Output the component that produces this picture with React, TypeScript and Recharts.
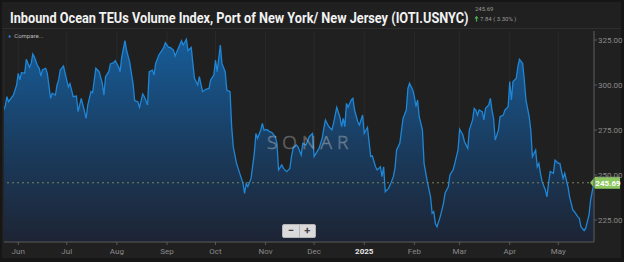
import { useLayoutEffect, useRef, useState } from 'react';
import { AreaChart, Area, XAxis, YAxis, CartesianGrid, ReferenceLine } from 'recharts';

// day offsets from 2024-06-01
const days = [
  -9, -8, -7, -6, -3, -1, 0, 1, 2, 4,
  5, 7, 8, 9, 10, 12, 13, 14, 15, 17,
  18, 20, 21, 23, 24, 25, 26, 28, 29, 31,
  32, 33, 34, 36, 37, 39, 40, 42, 43, 45,
  46, 48, 50, 52, 53, 54, 56, 57, 59, 60,
  62, 63, 64, 66, 67, 69, 70, 71, 72, 74,
  75, 77, 78, 80, 81, 83, 84, 85, 87, 89,
  90, 91, 93, 94, 96, 97, 99, 101, 102, 104,
  105, 107, 108, 109, 111, 112, 114, 116, 118, 119,
  121, 122, 123, 125, 126, 128, 129, 131, 132, 133,
  135, 137, 139, 140, 141, 142, 144, 146, 147, 148,
  150, 151, 152, 154, 155, 157, 159, 160, 161, 163,
  164, 166, 168, 169, 170, 172, 173, 175, 176, 178,
  180, 182, 183, 186, 188, 189, 190, 192, 194, 195,
  197, 199, 200, 201, 202, 203, 204, 206, 207, 208,
  210, 211, 213, 214, 216, 218, 219, 221, 222, 224,
  225, 226, 227, 229, 230, 232, 233, 234, 236, 238,
  240, 241, 242, 244, 245, 246, 247, 248, 250, 251,
  253, 255, 256, 257, 258, 259, 261, 263, 264, 266,
  267, 269, 270, 272, 273, 275, 276, 278, 279, 281,
  282, 283, 284, 285, 287, 288, 289, 291, 292, 293,
  294, 295, 297, 298, 300, 301, 303, 304, 305, 306,
  308, 309, 310, 312, 313, 314, 316, 317, 318, 320,
  321, 322, 323, 324, 326, 327, 328, 329, 331, 332,
  334, 335, 336, 337, 338, 340, 341, 343, 344, 346,
  347, 348, 350, 351, 353, 354, 356,
];

const teuIndex = [
  286.1, 288.3, 293.5, 290.7, 294.4, 300, 306.5, 302.8, 306.9, 306.5,
  314.3, 309.8, 312, 317.2, 315.5, 310.6, 309.3, 305, 308.5, 309.3,
  306.5, 292.6, 295.4, 294.4, 300, 302.8, 308.3, 310.6, 306.5, 299,
  300.8, 297.2, 293.5, 293.9, 285.2, 292.6, 288.9, 281.5, 288.9, 296.3,
  295.7, 309.3, 307.4, 301, 294.4, 304.6, 307.4, 311.7, 312.4, 313.5,
  310.2, 307.4, 315.5, 324.6, 319.4, 312.4, 306.5, 301, 291.3, 290.7,
  287.6, 295, 293.5, 288.9, 307.4, 308.3, 305.6, 312, 316.7, 319.4,
  320.9, 323.5, 320.9, 320.9, 319.4, 316.1, 320.4, 324.6, 322.2, 325.4,
  319.1, 320.9, 312, 303.7, 300, 304.6, 296.3, 297.6, 298.1, 302.8,
  305.6, 313.9, 307.4, 322.2, 312, 307.4, 297.2, 296.3, 276.9, 265.7,
  256.5, 250.9, 245.4, 239.8, 245.4, 243.5, 248.1, 262, 273.1, 270.4,
  275, 278.7, 275, 275.2, 274.4, 273.5, 271.3, 267.6, 252.8, 255.6,
  253.7, 251.9, 253.7, 260.2, 264.8, 266.7, 265.7, 261.1, 267.6, 266.7,
  271.3, 273.1, 260.2, 264.8, 270.4, 275.9, 280.6, 277, 275, 278.7,
  287.6, 282, 276.9, 281.5, 276.9, 289.8, 287.6, 291.7, 292.6, 286.1,
  279.6, 277.8, 283.3, 273.1, 276.5, 260.2, 260.6, 254.6, 252.8, 254.6,
  249.1, 254.6, 240.7, 242.6, 244.4, 249.1, 253.7, 263.9, 267.6, 281.5,
  286.1, 298.1, 301, 297.2, 293.5, 288, 291.7, 282.4, 275, 256.5,
  246.3, 237.9, 228.7, 229.6, 223.1, 221.3, 226.9, 234.3, 240, 243.5,
  250, 253, 256.5, 263.9, 275.5, 272.2, 268.5, 264.8, 275, 280.6,
  287, 286.1, 283.3, 286.1, 285.2, 280.6, 287, 288.9, 292.6, 286.1,
  281.5, 269.4, 275, 282.4, 283.3, 286.1, 288, 301.9, 291.7, 301.9,
  303.7, 310.2, 314.3, 312, 302.8, 291.7, 282.4, 275, 260.2, 263.9,
  254.6, 256.5, 250.9, 246.3, 241.7, 237.9, 245.4, 251.9, 251, 258.3,
  256.5, 256.5, 251.9, 248.1, 251, 243.5, 237.9, 230.6, 229.6, 226.9,
  226, 221.3, 219.1, 220.5, 227.8, 236.1, 245.69,
];

// month starts (days from 2024-06-01) and their labels
const monthTicks = [0, 30, 61, 92, 122, 153, 183, 214, 245, 273, 304, 334];
const monthLabels = ['Jun', 'Jul', 'Aug', 'Sep', 'Oct', 'Nov', 'Dec', '2025', 'Feb', 'Mar', 'Apr', 'May'];
const valueTicks = [225, 250, 275, 300, 325];

const lastValue = 245.69;
const changeText = '7.84 ( 3.30% )';
const title = 'Inbound Ocean TEUs Volume Index, Port of New York/ New Jersey (IOTI.USNYC)';

const chartData = days.map((d, i) => ({ day: d, value: teuIndex[i] }));

const font = 'Roboto, "DejaVu Sans", sans-serif';
const TITLE_WIDTH = 458;

const MonthTick = (props: any) => {
  const { x, y, payload } = props;
  const idx = monthTicks.indexOf(payload.value);
  const label = monthLabels[idx] ?? '';
  const isYear = label === '2025';
  return (
    <text
      x={x}
      y={y + 7}
      textAnchor="middle"
      fontSize={8}
      fontFamily={font}
      fontWeight={isYear ? 700 : 400}
      fill={isYear ? '#e6e6e6' : '#8a8a8a'}
    >
      {label}
    </text>
  );
};

const LastValueTag = (props: any) => {
  const { viewBox } = props;
  if (!viewBox) return null;
  const right = viewBox.x + viewBox.width;
  const cy = viewBox.y;
  const pts = `${right - 4},${cy} ${right + 1},${cy - 6} ${right + 26},${cy - 6} ${right + 26},${cy + 6} ${right + 1},${cy + 6}`;
  return (
    <g>
      <polygon points={pts} fill="#8cc760" />
      <text
        x={right + 14}
        y={cy + 3}
        textAnchor="middle"
        fontSize={8}
        fontWeight={700}
        fontFamily={font}
        fill="#ffffff"
      >
        {lastValue.toFixed(2)}
      </text>
    </g>
  );
};

export default function App() {
  // the original title uses a condensed face; squeeze ours to the same width
  const titleRef = useRef<HTMLDivElement>(null);
  const [titleScale, setTitleScale] = useState(0.8);
  useLayoutEffect(() => {
    const el = titleRef.current;
    if (el && el.scrollWidth > 0) setTitleScale(TITLE_WIDTH / el.scrollWidth);
  }, []);

  return (
    <div
      style={{
        position: 'relative',
        width: 624,
        height: 262,
        background: '#161616',
        overflow: 'hidden',
        fontFamily: font,
      }}
    >
      <style>{'body{margin:0;background:#161616}'}</style>

      {/* panel */}
      <div
        style={{
          position: 'absolute',
          left: 2,
          top: 2,
          width: 619,
          height: 256,
          background: '#202020',
        }}
      />
      <div
        style={{
          position: 'absolute',
          left: 2,
          top: 28,
          width: 619,
          height: 1,
          background: '#2e2e2e',
        }}
      />

      {/* title */}
      <div
        ref={titleRef}
        style={{
          position: 'absolute',
          left: 10,
          top: 9,
          fontSize: 15,
          lineHeight: '18px',
          fontWeight: 700,
          color: '#f2f2f2',
          whiteSpace: 'nowrap',
          transform: `scaleX(${titleScale})`,
          transformOrigin: '0 0',
        }}
      >
        {title}
      </div>

      {/* last price + change */}
      <svg
        width={80}
        height={26}
        style={{ position: 'absolute', left: 472, top: 0 }}
      >
        <text x={3} y={11} fontSize={6} fontFamily={font} fill="#9a9a9a">
          {lastValue.toFixed(2)}
        </text>
        <polygon points="4.5,15.8 6.6,18.6 5.1,18.6 5.1,21.4 3.9,21.4 3.9,18.6 2.4,18.6" fill="#4caf50" />
        <text x={8} y={21} fontSize={6} fontFamily={font} fill="#9a9a9a">
          {changeText}
        </text>
      </svg>

      <div style={{ position: 'absolute', left: 0, top: 0 }}>
        <AreaChart
          width={624}
          height={262}
          data={chartData}
          margin={{ top: 31, right: 2, bottom: 4, left: 4 }}
        >
          <defs>
            <linearGradient id="teuFill" x1="0" y1="0" x2="0" y2="1">
              <stop offset="0%" stopColor="#175c98" stopOpacity={1} />
              <stop offset="55%" stopColor="#1a3b5d" stopOpacity={1} />
              <stop offset="100%" stopColor="#1d2434" stopOpacity={1} />
            </linearGradient>
          </defs>
          <CartesianGrid horizontal={false} stroke="#2a2a2a" />
          <XAxis
            dataKey="day"
            type="number"
            domain={[-8.8, 356.1]}
            allowDataOverflow
            ticks={monthTicks}
            tick={<MonthTick />}
            tickSize={3}
            height={16}
            stroke="#5a5a5a"
            tickLine={{ stroke: '#5a5a5a' }}
          />
          <YAxis
            orientation="right"
            type="number"
            domain={[212.8, 330]}
            allowDataOverflow
            ticks={valueTicks}
            tickFormatter={(v: number) => v.toFixed(2)}
            width={28}
            tickSize={3}
            tickMargin={1}
            stroke="#5a5a5a"
            tickLine={{ stroke: '#5a5a5a' }}
            tick={{ fontSize: 8, fill: '#8a8a8a', fontFamily: font }}
          />
          <Area
            type="linear"
            dataKey="value"
            stroke="#1f86d6"
            strokeWidth={1.3}
            fill="url(#teuFill)"
            fillOpacity={1}
            isAnimationActive={false}
            dot={false}
            activeDot={false}
          />
          <ReferenceLine
            y={lastValue}
            stroke="#76865f"
            strokeDasharray="2 3"
            label={<LastValueTag />}
          />
        </AreaChart>
      </div>

      {/* compare link */}
      <div
        style={{
          position: 'absolute',
          left: 8,
          top: 32,
          fontSize: 6,
          color: '#b8b8b8',
          whiteSpace: 'nowrap',
        }}
      >
        <span style={{ color: '#2e8be6', fontWeight: 700, marginRight: 3 }}>+</span>
        Compare...
      </div>

      {/* watermark */}
      <div
        style={{
          position: 'absolute',
          left: 267,
          top: 131,
          fontSize: 19,
          letterSpacing: 5,
          fontFamily: '"Open Sans", sans-serif',
          fontWeight: 300,
          color: 'transparent',
          WebkitTextStroke: '0.7px rgba(200,200,200,0.45)',
          pointerEvents: 'none',
          lineHeight: '22px',
        }}
      >
        SONAR
      </div>

      {/* zoom buttons */}
      <div
        style={{
          position: 'absolute',
          left: 282,
          top: 224,
          width: 34,
          height: 14,
          background: '#dadada',
          border: '1px solid #b5b5b5',
          borderRadius: 2,
          display: 'flex',
          boxSizing: 'border-box',
          fontSize: 11,
          fontWeight: 700,
          color: '#444',
          lineHeight: '12px',
        }}
      >
        <span style={{ flex: 1, textAlign: 'center', borderRight: '1px solid #b5b5b5' }}>−</span>
        <span style={{ flex: 1, textAlign: 'center' }}>+</span>
      </div>
    </div>
  );
}
